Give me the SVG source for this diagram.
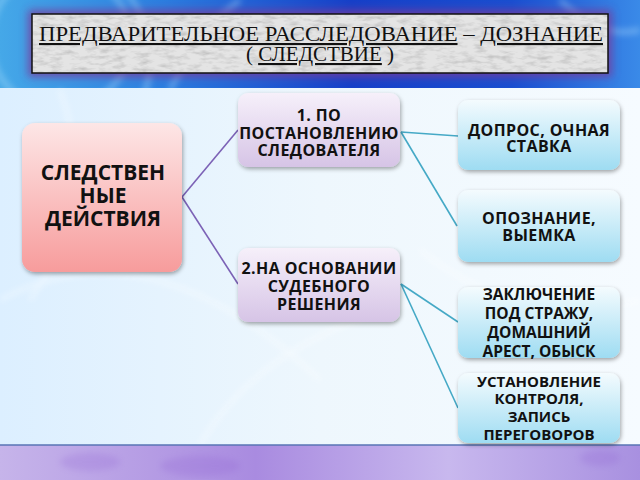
<svg xmlns="http://www.w3.org/2000/svg" width="640" height="480" viewBox="0 0 640 480">
<defs>
<linearGradient id="topband" x1="0" y1="0" x2="1" y2="0">
<stop offset="0" stop-color="#45a8e8"/>
<stop offset="0.25" stop-color="#2c7fe0"/>
<stop offset="0.55" stop-color="#1640c8"/>
<stop offset="0.8" stop-color="#1a4fd0"/>
<stop offset="1" stop-color="#3a8ae8"/>
</linearGradient>
<linearGradient id="main" x1="0" y1="0" x2="1" y2="0">
<stop offset="0" stop-color="#dcefff"/>
<stop offset="0.5" stop-color="#eef7fd"/>
<stop offset="1" stop-color="#f6fbff"/>
</linearGradient>
<linearGradient id="bottom" x1="0" y1="0" x2="1" y2="0">
<stop offset="0" stop-color="#c6b4ea"/>
<stop offset="0.4" stop-color="#a98be0"/>
<stop offset="0.7" stop-color="#c8b8ee"/>
<stop offset="1" stop-color="#a890e0"/>
</linearGradient>
<linearGradient id="pink" x1="0" y1="0" x2="0" y2="1">
<stop offset="0" stop-color="#fde6e6"/>
<stop offset="1" stop-color="#f79c9c"/>
</linearGradient>
<linearGradient id="lilac" x1="0" y1="0" x2="0" y2="1">
<stop offset="0" stop-color="#f6f0fa"/>
<stop offset="1" stop-color="#d6c4e6"/>
</linearGradient>
<linearGradient id="cyan" x1="0" y1="0" x2="0" y2="1">
<stop offset="0" stop-color="#f4fbfe"/>
<stop offset="1" stop-color="#9edcf2"/>
</linearGradient>
<filter id="shadow" x="-20%" y="-20%" width="140%" height="140%">
<feDropShadow dx="1" dy="2" stdDeviation="2" flood-color="#000" flood-opacity="0.35"/>
</filter>
<filter id="glow" x="-10%" y="-50%" width="120%" height="200%">
<feGaussianBlur stdDeviation="4"/>
</filter>
<filter id="marble" x="0" y="0" width="100%" height="100%">
<feTurbulence type="fractalNoise" baseFrequency="0.08 0.25" numOctaves="3" seed="4" result="n"/>
<feColorMatrix in="n" type="matrix" values="0 0 0 0 0.55  0 0 0 0 0.55  0 0 0 0 0.55  0 0 0 -2.2 1.25" result="m"/>
<feComposite in="m" in2="SourceGraphic" operator="in"/>
</filter>
<filter id="soft"><feGaussianBlur stdDeviation="3"/></filter>
<style>
.node text{font-family:"Open Sans","Noto Sans","Liberation Sans",sans-serif;font-weight:700;fill:#111;text-anchor:middle}
.w{letter-spacing:0.4px}
.title{font-family:"Liberation Serif","Times New Roman",serif;fill:#111;font-size:21px;text-anchor:middle}
.u{text-decoration:underline}
.conn line{fill:none;stroke-width:1.6}
.p{stroke:#7c62b6}
.c{stroke:#45a9c6}
</style>
</defs>

<!-- background -->
<rect x="0" y="0" width="640" height="88" fill="url(#topband)"/>
<g opacity="0.35" fill="none" stroke="#bfe8ff" stroke-width="6" filter="url(#soft)">
<circle cx="60" cy="40" r="70"/>
<circle cx="40" cy="60" r="110"/>
<path d="M170 90 Q200 30 240 0"/>
<path d="M560 0 Q600 40 640 30"/>
</g>
<rect x="0" y="88" width="640" height="357" fill="url(#main)"/>
<g opacity="0.5" fill="none" stroke="#ffffff" stroke-width="3" filter="url(#soft)">
<path d="M0 300 Q150 220 320 380"/>
<path d="M200 445 Q260 340 420 300"/>
<path d="M60 90 Q100 200 30 300"/>
<path d="M420 250 Q520 330 640 300"/>
</g>
<rect x="0" y="445" width="640" height="35" fill="url(#bottom)"/>
<g opacity="0.2" fill="#8a5ad0" filter="url(#soft)">
<ellipse cx="90" cy="462" rx="30" ry="9"/>
<ellipse cx="200" cy="466" rx="40" ry="10"/>
<ellipse cx="600" cy="458" rx="20" ry="8"/>
</g>
<line x1="0" y1="445" x2="640" y2="445" stroke="#5874b4" stroke-width="1.5"/>

<!-- title -->
<g id="title">
<rect x="28" y="10" width="584" height="67" fill="#7a3a9a" opacity="0.8" filter="url(#glow)"/>
<rect x="32" y="14" width="576" height="59" fill="#e4e4e4"/>
<rect x="32" y="14" width="576" height="59" fill="#fff" filter="url(#marble)"/>
<rect x="32" y="14" width="576" height="59" fill="none" stroke="#111" stroke-width="1.5"/>
<text class="title" x="321" y="41" textLength="564" lengthAdjust="spacingAndGlyphs"><tspan class="u">ПРЕДВАРИТЕЛЬНОЕ РАССЛЕДОВАНИЕ</tspan> – <tspan class="u">ДОЗНАНИЕ</tspan></text>
<text class="title" x="320" y="61">( <tspan class="u">СЛЕДСТВИЕ</tspan> )</text>
</g>

<!-- connectors -->
<g id="connectors" class="conn">
<line class="p" x1="182" y1="197" x2="238" y2="130"/>
<line class="p" x1="182" y1="197" x2="238" y2="284"/>
<line class="c" x1="401" y1="132" x2="458" y2="136"/>
<line class="c" x1="401" y1="132" x2="457" y2="226"/>
<line class="c" x1="401" y1="284" x2="458" y2="322"/>
<line class="c" x1="401" y1="284" x2="458" y2="408"/>
</g>

<g id="n-main" class="node">
<rect x="22" y="123" width="160" height="149" rx="13" fill="url(#pink)" filter="url(#shadow)"/>
<text font-size="21"><tspan x="103" y="180">СЛЕДСТВЕН</tspan><tspan x="103" y="203">НЫЕ</tspan><tspan x="103" y="226">ДЕЙСТВИЯ</tspan></text>
</g>

<g id="n-1" class="node">
<rect x="238" y="93" width="162" height="74" rx="10" fill="url(#lilac)" filter="url(#shadow)"/>
<text class="w" font-size="16"><tspan x="319" y="121">1. ПО</tspan><tspan x="319" y="139">ПОСТАНОВЛЕНИЮ</tspan><tspan x="319" y="156">СЛЕДОВАТЕЛЯ</tspan></text>
</g>

<g id="n-2" class="node">
<rect x="238" y="248" width="162" height="74" rx="10" fill="url(#lilac)" filter="url(#shadow)"/>
<text class="w" font-size="16"><tspan x="319" y="274">2.НА ОСНОВАНИИ</tspan><tspan x="319" y="292">СУДЕБНОГО</tspan><tspan x="319" y="310">РЕШЕНИЯ</tspan></text>
</g>

<g id="n-dopros" class="node">
<rect x="458" y="100" width="162" height="70" rx="10" fill="url(#cyan)" filter="url(#shadow)"/>
<text class="w" font-size="16"><tspan x="539" y="136">ДОПРОС, ОЧНАЯ</tspan><tspan x="539" y="152">СТАВКА</tspan></text>
</g>

<g id="n-opozn" class="node">
<rect x="458" y="190" width="162" height="72" rx="10" fill="url(#cyan)" filter="url(#shadow)"/>
<text class="w" font-size="16"><tspan x="539" y="224">ОПОЗНАНИЕ,</tspan><tspan x="539" y="241">ВЫЕМКА</tspan></text>
</g>

<g id="n-zakl" class="node">
<rect x="458" y="287" width="162" height="71" rx="10" fill="url(#cyan)" filter="url(#shadow)"/>
<text font-size="15.5"><tspan x="539" y="300">ЗАКЛЮЧЕНИЕ</tspan><tspan x="539" y="319">ПОД СТРАЖУ,</tspan><tspan x="539" y="338">ДОМАШНИЙ</tspan><tspan x="539" y="357">АРЕСТ, ОБЫСК</tspan></text>
</g>

<g id="n-ustan" class="node">
<rect x="458" y="373" width="162" height="70" rx="10" fill="url(#cyan)" filter="url(#shadow)"/>
<text font-size="15"><tspan x="539" y="387">УСТАНОВЛЕНИЕ</tspan><tspan x="539" y="404">КОНТРОЛЯ,</tspan><tspan x="539" y="422">ЗАПИСЬ</tspan><tspan x="539" y="440">ПЕРЕГОВОРОВ</tspan></text>
</g>
</svg>
